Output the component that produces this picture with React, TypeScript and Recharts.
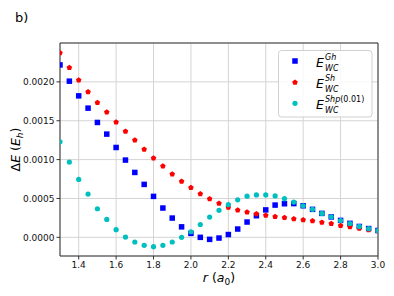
import {
  ScatterChart,
  Scatter,
  XAxis,
  YAxis,
  CartesianGrid,
  ReferenceLine,
} from "recharts";

// r in bohr, energies in hartree
const radii = [
  1.3, 1.35, 1.4, 1.45, 1.5, 1.55, 1.6, 1.65, 1.7, 1.75, 1.8, 1.85, 1.9, 1.95,
  2.0, 2.05, 2.1, 2.15, 2.2, 2.25, 2.3, 2.35, 2.4, 2.45, 2.5, 2.55, 2.6, 2.65,
  2.7, 2.75, 2.8, 2.85, 2.9, 2.95, 3.0,
];

const ghValues = [
  0.002218, 0.002009, 0.00182, 0.001662, 0.001478, 0.001328, 0.001156,
  0.000994, 0.000835, 0.000681, 0.000527, 0.000377, 0.000248, 0.000135,
  0.000051, 0.0, -0.000026, -0.000009, 0.000036, 0.000107, 0.000197, 0.000278,
  0.000353, 0.000415, 0.000432, 0.000434, 0.000406, 0.00036, 0.000308,
  0.000263, 0.000218, 0.00018, 0.00014, 0.000113, 0.000088,
];

const shValues = [
  0.002373, 0.002184, 0.002021, 0.001872, 0.001734, 0.00161, 0.001482,
  0.001362, 0.001251, 0.001131, 0.001019, 0.000916, 0.000814, 0.000719,
  0.00064, 0.000558, 0.000494, 0.000437, 0.000386, 0.000351, 0.000325,
  0.000302, 0.000283, 0.000267, 0.000252, 0.000238, 0.000225, 0.00021,
  0.000193, 0.000175, 0.00015, 0.000133, 0.000115, 0.000095, 0.000082,
];

const shpValues = [
  0.001229, 0.000968, 0.000745, 0.000557, 0.000368, 0.000231, 0.000099,
  0.000004, -0.00006, -0.000103, -0.00012, -0.000103, -0.00006, 0.0, 0.000072,
  0.000165, 0.000261, 0.000347, 0.00042, 0.000482, 0.000529, 0.000546,
  0.000546, 0.000533, 0.000497, 0.000454, 0.000406, 0.00036, 0.000308,
  0.000265, 0.000216, 0.000178, 0.00014, 0.000112, 0.000086,
];

const xTicks = [1.4, 1.6, 1.8, 2.0, 2.2, 2.4, 2.6, 2.8, 3.0];
const yTicks = [0, 0.0005, 0.001, 0.0015, 0.002];
const xDomain: [number, number] = [1.3, 3.0];
const yDomain: [number, number] = [-0.00024, 0.0025];

const toPoints = (values: number[]) =>
  radii.map((r, i) => ({ r, e: values[i] }));

const FONT = "DejaVu Sans";
const SPINE = "#333";

interface DotProps {
  cx?: number;
  cy?: number;
  fill?: string;
}

function SquareDot({ cx, cy, fill }: DotProps) {
  if (cx == null || cy == null) return null;
  return <rect x={cx - 2.75} y={cy - 2.75} width={5.5} height={5.5} fill={fill} />;
}

function PentagonDot({ cx, cy, fill }: DotProps) {
  if (cx == null || cy == null) return null;
  const r = 2.9;
  const pts = [0, 1, 2, 3, 4]
    .map((k) => {
      const a = ((-90 + 72 * k) * Math.PI) / 180;
      return `${cx + r * Math.cos(a)},${cy + r * Math.sin(a)}`;
    })
    .join(" ");
  return <polygon points={pts} fill={fill} />;
}

function CircleDot({ cx, cy, fill }: DotProps) {
  if (cx == null || cy == null) return null;
  return <circle cx={cx} cy={cy} r={2.6} fill={fill} />;
}

const series = [
  { key: "gh", sup: "Gh", supTail: "", color: "#0000ff", shape: SquareDot, values: ghValues },
  { key: "sh", sup: "Sh", supTail: "", color: "#ff0000", shape: PentagonDot, values: shValues },
  { key: "shp", sup: "Shp", supTail: "(0.01)", color: "#00bfbf", shape: CircleDot, values: shpValues },
];

interface LabelViewBox {
  x: number;
  y: number;
  width: number;
  height: number;
}

function YLabel(props: { viewBox?: LabelViewBox }) {
  const vb = props.viewBox;
  if (!vb) return null;
  const x = vb.x + 20;
  const y = vb.y + vb.height / 2;
  return (
    <text
      x={x}
      y={y}
      transform={`rotate(-90 ${x} ${y})`}
      textAnchor="middle"
      fontSize={12.5}
      fontFamily={FONT}
      fill="#000"
    >
      Δ<tspan fontStyle="italic">E</tspan> (<tspan fontStyle="italic">E</tspan>
      <tspan fontStyle="italic" fontSize={9} dy={3}>
        h
      </tspan>
      <tspan dy={-3}>)</tspan>
    </text>
  );
}

function XLabel(props: { viewBox?: LabelViewBox }) {
  const vb = props.viewBox;
  if (!vb) return null;
  return (
    <text
      x={vb.x + vb.width / 2}
      y={vb.y + 26}
      textAnchor="middle"
      fontSize={12.5}
      fontFamily={FONT}
      fill="#000"
    >
      <tspan fontStyle="italic">r</tspan> (<tspan fontStyle="italic">a</tspan>
      <tspan fontSize={9} dy={3}>
        0
      </tspan>
      <tspan dy={-3}>)</tspan>
    </text>
  );
}

function LegendBox() {
  const rows = [11, 32.3, 53.3];
  return (
    <svg
      width={95}
      height={68}
      style={{ position: "absolute", left: 278, top: 50 }}
    >
      <rect
        x={0.5}
        y={0.5}
        width={93.5}
        height={66.5}
        rx={3}
        fill="#fff"
        fillOpacity={0.85}
        stroke="#d0d0d0"
      />
      {series.map((s, i) => {
        const Shape = s.shape;
        const cy = rows[i];
        return (
          <g key={s.key}>
            <Shape cx={17} cy={cy} fill={s.color} />
            <text x={38} y={cy + 5.5} fontSize={12.5} fontFamily={FONT} fontStyle="italic">
              E
            </text>
            <text x={47} y={cy - 1} fontSize={8} fontFamily={FONT}>
              <tspan fontStyle="italic">{s.sup}</tspan>
              {s.supTail}
            </text>
            <text x={47} y={cy + 9.5} fontSize={8} fontFamily={FONT} fontStyle="italic">
              WC
            </text>
          </g>
        );
      })}
    </svg>
  );
}

export default function App() {
  return (
    <div
      style={{
        position: "absolute",
        left: 0,
        top: 0,
        width: 394,
        height: 296,
        background: "#fff",
        fontFamily: FONT,
      }}
    >
      <svg width={40} height={30} style={{ position: "absolute", left: 0, top: 0 }}>
        <text x={15} y={22} fontSize={13} fontFamily={FONT} fill="#000">
          b)
        </text>
      </svg>
      <ScatterChart
        width={394}
        height={296}
        margin={{ top: 43, right: 16, bottom: 0, left: 0 }}
      >
        <CartesianGrid stroke="#d4d4d4" strokeWidth={1} />
        <XAxis
          type="number"
          dataKey="r"
          domain={xDomain}
          ticks={xTicks}
          allowDataOverflow
          height={40}
          tickSize={3.5}
          tickMargin={2}
          tickFormatter={(v: number) => v.toFixed(1)}
          tick={{ fontSize: 9, fill: "#111", fontFamily: FONT }}
          stroke={SPINE}
          label={<XLabel />}
        />
        <YAxis
          type="number"
          dataKey="e"
          domain={yDomain}
          ticks={yTicks}
          allowDataOverflow
          width={60}
          tickSize={3.5}
          tickMargin={2}
          tickFormatter={(v: number) => v.toFixed(4)}
          tick={{ fontSize: 9, fill: "#111", fontFamily: FONT }}
          stroke={SPINE}
          label={<YLabel />}
        />
        <ReferenceLine y={yDomain[1]} stroke={SPINE} />
        <ReferenceLine x={xDomain[1]} stroke={SPINE} />
        {series.map((s) => (
          <Scatter
            key={s.key}
            name={s.key}
            data={toPoints(s.values)}
            fill={s.color}
            shape={s.shape}
            isAnimationActive={false}
          />
        ))}
      </ScatterChart>
      <LegendBox />
    </div>
  );
}
